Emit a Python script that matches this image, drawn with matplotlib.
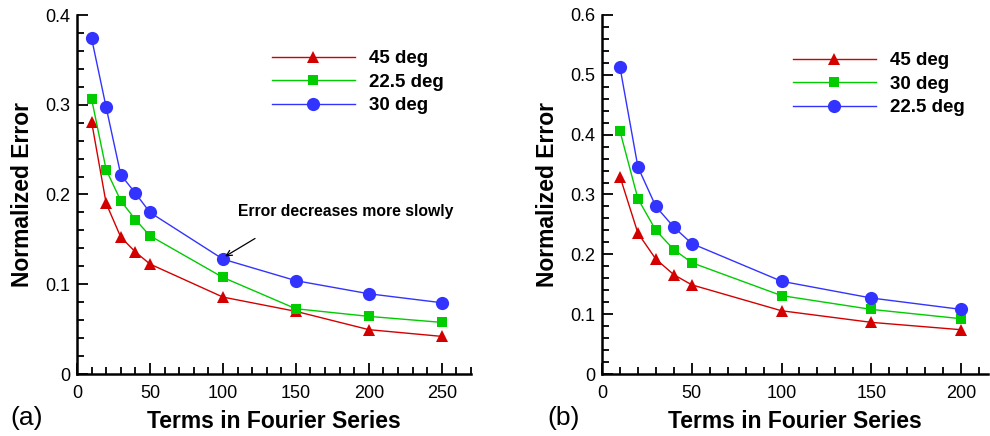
import matplotlib
matplotlib.use("Agg")
import matplotlib.pyplot as plt
from matplotlib.ticker import MultipleLocator

plt.rcParams['font.family'] = ['Liberation Sans', 'DejaVu Sans']

# ---- data ----
terms_a = [10, 20, 30, 40, 50, 100, 150, 200, 250]
err_a_45 = [0.281, 0.190, 0.1525, 0.136, 0.1225, 0.0857, 0.0698, 0.0494, 0.0419]
err_a_225 = [0.3065, 0.2275, 0.193, 0.172, 0.154, 0.1076, 0.0727, 0.0642, 0.0575]
err_a_30 = [0.374, 0.297, 0.222, 0.2015, 0.180, 0.128, 0.104, 0.0894, 0.0794]
labels_a = ['45 deg', '22.5 deg', '30 deg']

terms_b = [10, 20, 30, 40, 50, 100, 150, 200]
err_b_45 = [0.330, 0.2354, 0.192, 0.166, 0.149, 0.1057, 0.0863, 0.074]
err_b_30 = [0.406, 0.293, 0.240, 0.208, 0.186, 0.131, 0.108, 0.0924]
err_b_225 = [0.513, 0.346, 0.280, 0.2455, 0.218, 0.155, 0.127, 0.108]
labels_b = ['45 deg', '30 deg', '22.5 deg']

xlabel = 'Terms in Fourier Series'
ylabel = 'Normalized Error'
note = 'Error decreases more slowly'

RED = '#d40000'
GREEN = '#00cc00'
BLUE = '#3333ff'

fig = plt.figure(figsize=(9.9, 4.36), dpi=100)
W, H = 990, 436
axA = fig.add_axes([77 / W, 62 / H, (471 - 77) / W, (374 - 15) / H])
axB = fig.add_axes([602 / W, 62 / H, (988 - 602) / W, (374 - 15) / H])

styles = [
    dict(color=RED, marker='^', markersize=8, lw=1.0),
    dict(color=GREEN, marker='s', markersize=7, lw=1.0),
    dict(color=BLUE, marker='o', markersize=9.5, lw=1.0),
]

def setup(ax, xmax, ymax, ymaj):
    ax.set_xlim(0, xmax)
    ax.set_ylim(0, ymax)
    ax.xaxis.set_major_locator(MultipleLocator(50))
    ax.xaxis.set_minor_locator(MultipleLocator(10))
    ax.yaxis.set_major_locator(MultipleLocator(ymaj))
    ax.yaxis.set_minor_locator(MultipleLocator(0.02))
    ax.yaxis.set_major_formatter(matplotlib.ticker.FuncFormatter(
        lambda v, p: '0' if abs(v) < 1e-9 else ('%g' % round(v, 3))))
    for s in ['top', 'right']:
        ax.spines[s].set_visible(False)
    for s in ['left', 'bottom']:
        ax.spines[s].set_linewidth(1.8)
    ax.tick_params(which='both', direction='in', width=1.3, labelsize=13)
    ax.tick_params(which='major', length=8)
    ax.tick_params(which='minor', length=5)
    ax.tick_params(axis='x', pad=8)
    ax.tick_params(axis='y', pad=5)
    ax.set_xlabel(xlabel, fontsize=16.5, fontweight='bold', labelpad=6)
    ax.set_ylabel(ylabel, fontsize=16.5, fontweight='bold', labelpad=8)

setup(axA, 270, 0.4, 0.1)
setup(axB, 215, 0.6, 0.1)

for ys, st, lab in zip([err_a_45, err_a_225, err_a_30], styles, labels_a):
    axA.plot(terms_a, ys, label=lab, markeredgewidth=0, **st)
for ys, st, lab in zip([err_b_45, err_b_30, err_b_225], styles, labels_b):
    axB.plot(terms_b, ys, label=lab, markeredgewidth=0, **st)

legkw = dict(frameon=False, handlelength=4.4, handletextpad=0.75,
             labelspacing=0.35, prop=dict(weight='bold', size=13.5),
             borderaxespad=0, borderpad=0)
axA.legend(loc='upper left', bbox_to_anchor=((272 - 77) / (471 - 77), (374 - 50) / (374 - 15)), **legkw)
axB.legend(loc='upper left', bbox_to_anchor=((793 - 602) / (988 - 602), (374 - 52) / (374 - 15)), **legkw)

axA.annotate(note, xy=(100, err_a_30[5]), xytext=(238, 225), textcoords='figure pixels',
             fontsize=11.3, fontweight='bold', ha='left', va='center',
             arrowprops=None)
axA.annotate('', xy=(101.5, err_a_30[5] + 0.003), xytext=(122, 0.151),
             arrowprops=dict(arrowstyle='->', color='black', lw=0.9, shrinkA=0, shrinkB=0))

fig.text(10 / W, 1 - 418 / H, '(a)', fontsize=19, ha='left', va='center')
fig.text(547 / W, 1 - 418 / H, '(b)', fontsize=19, ha='left', va='center')

fig.savefig('out.png', dpi=100)
